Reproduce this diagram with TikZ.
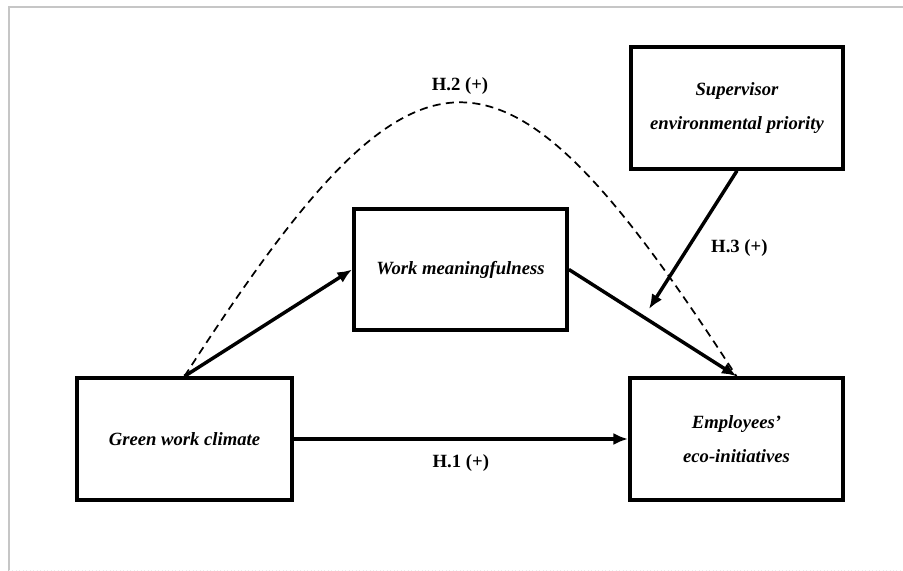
\documentclass[tikz,border=0pt]{standalone}
\usepackage{fontspec}
\setmainfont{Liberation Serif}
\usepackage{tikz}
\usetikzlibrary{positioning, arrows.meta, calc}

\begin{document}
\begin{tikzpicture}[x=0.75pt, y=-0.75pt,
    varbox/.style={draw, line width=2.6pt, align=center, font=\fontsize{14}{17}\selectfont\bfseries\itshape},
    effect/.style={line width=2.6pt, -{Latex[length=11pt, width=9pt]}},
    hyp/.style={font=\fontsize{14}{16}\selectfont\bfseries}]
      \useasboundingbox (0,0) rectangle (903,571);
      \draw[gray!45, line width=1pt] (9,571) -- (9,7) -- (903,7);
      \draw[gray!15, line width=0.6pt, dotted] (9,570) -- (903,570);

      % variables
      \node[varbox, minimum width=161pt, minimum height=91.5pt] (gwc) at (184.5,439) {Green work climate};
      \node[varbox, minimum width=160pt, minimum height=91pt] (wm) at (460.5,269.5) {Work meaningfulness};
      \node[varbox, minimum width=159pt, minimum height=91.5pt] (sup) at (737,108) {Supervisor\\[8pt]environmental priority};
      \node[varbox, minimum width=160pt, minimum height=91.5pt] (eco) at (736.5,439) {Employees'\\[8pt]eco-initiatives};
      \coordinate (mod) at (649,309);

      % H.1
      \draw[effect] (gwc) -- (eco) node[hyp, midway, below=7pt] {H.1 (+)};

      % H.2 (indirect)
      \draw[line width=1.3pt, dash pattern=on 6pt off 4pt] (gwc.north) .. controls (420,11) and (500,11) .. (eco.north);
      \node[hyp] (h2) at (460,86) {H.2 (+)};
      \draw[effect] (gwc.north) -- (wm.west);
      \draw[effect] (wm.east) -- (eco.north);

      % H.3 (moderation)
      \draw[effect] (sup.south) -- (mod) node[hyp, pos=0.56, right=13pt] {H.3 (+)};
    \end{tikzpicture}
\end{document}
